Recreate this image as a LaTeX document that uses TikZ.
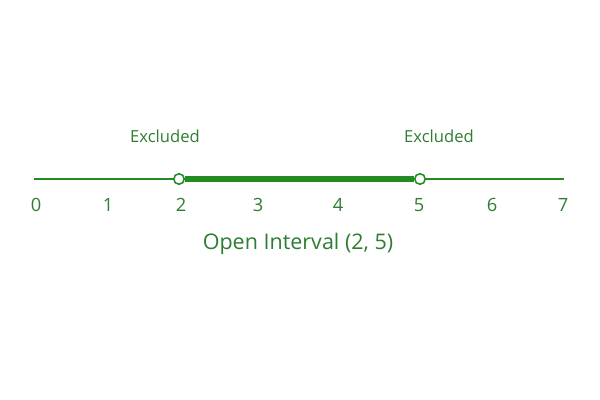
\documentclass[tikz,border=0pt]{standalone}
\usepackage{fontspec}
\setmainfont{Open Sans}
\definecolor{linegreen}{RGB}{34,139,34}
\definecolor{textgreen}{RGB}{46,125,50}
\begin{document}
\begin{tikzpicture}[x=0.025cm, y=-0.025cm,
        opendot/.style={circle, draw=linegreen, fill=white, line width=1.1pt, inner sep=0pt, minimum size=7.5pt},
        ticklabel/.style={text=textgreen, font=\fontsize{13}{15}\selectfont},
        notelabel/.style={text=textgreen, font=\fontsize{11.8}{13}\selectfont}]
        \useasboundingbox (0,0) rectangle (600,400);

        % Number line ends
        \coordinate (lineL) at (34,179);
        \coordinate (lineR) at (564,179);

        % Open end points of the interval
        \node[opendot] (dotA) at (179,179) {};
        \node[opendot] (dotB) at (420,179) {};

        % Thin base line and thick interval
        \draw[linegreen, line width=0.9pt] (lineL) -- (dotA);
        \draw[linegreen, line width=0.9pt] (dotB) -- (lineR);
        \draw[linegreen, line width=4pt] (dotA) -- (dotB);

        % Tick labels
        \foreach \n/\xpos in {0/36, 1/108, 2/181, 3/258, 4/338, 5/419, 6/492, 7/563}
            \node[ticklabel] (tick\n) at (\xpos,205) {\n};

        % Excluded end labels
        \node[notelabel] (exclA) at (165,136) {Excluded};
        \node[notelabel] (exclB) at (439,136) {Excluded};

        % Interval label
        \node[text=textgreen, font=\fontsize{15.3}{17}\selectfont] (title) at (298,244) {Open Interval (2, 5)};
    \end{tikzpicture}
\end{document}
